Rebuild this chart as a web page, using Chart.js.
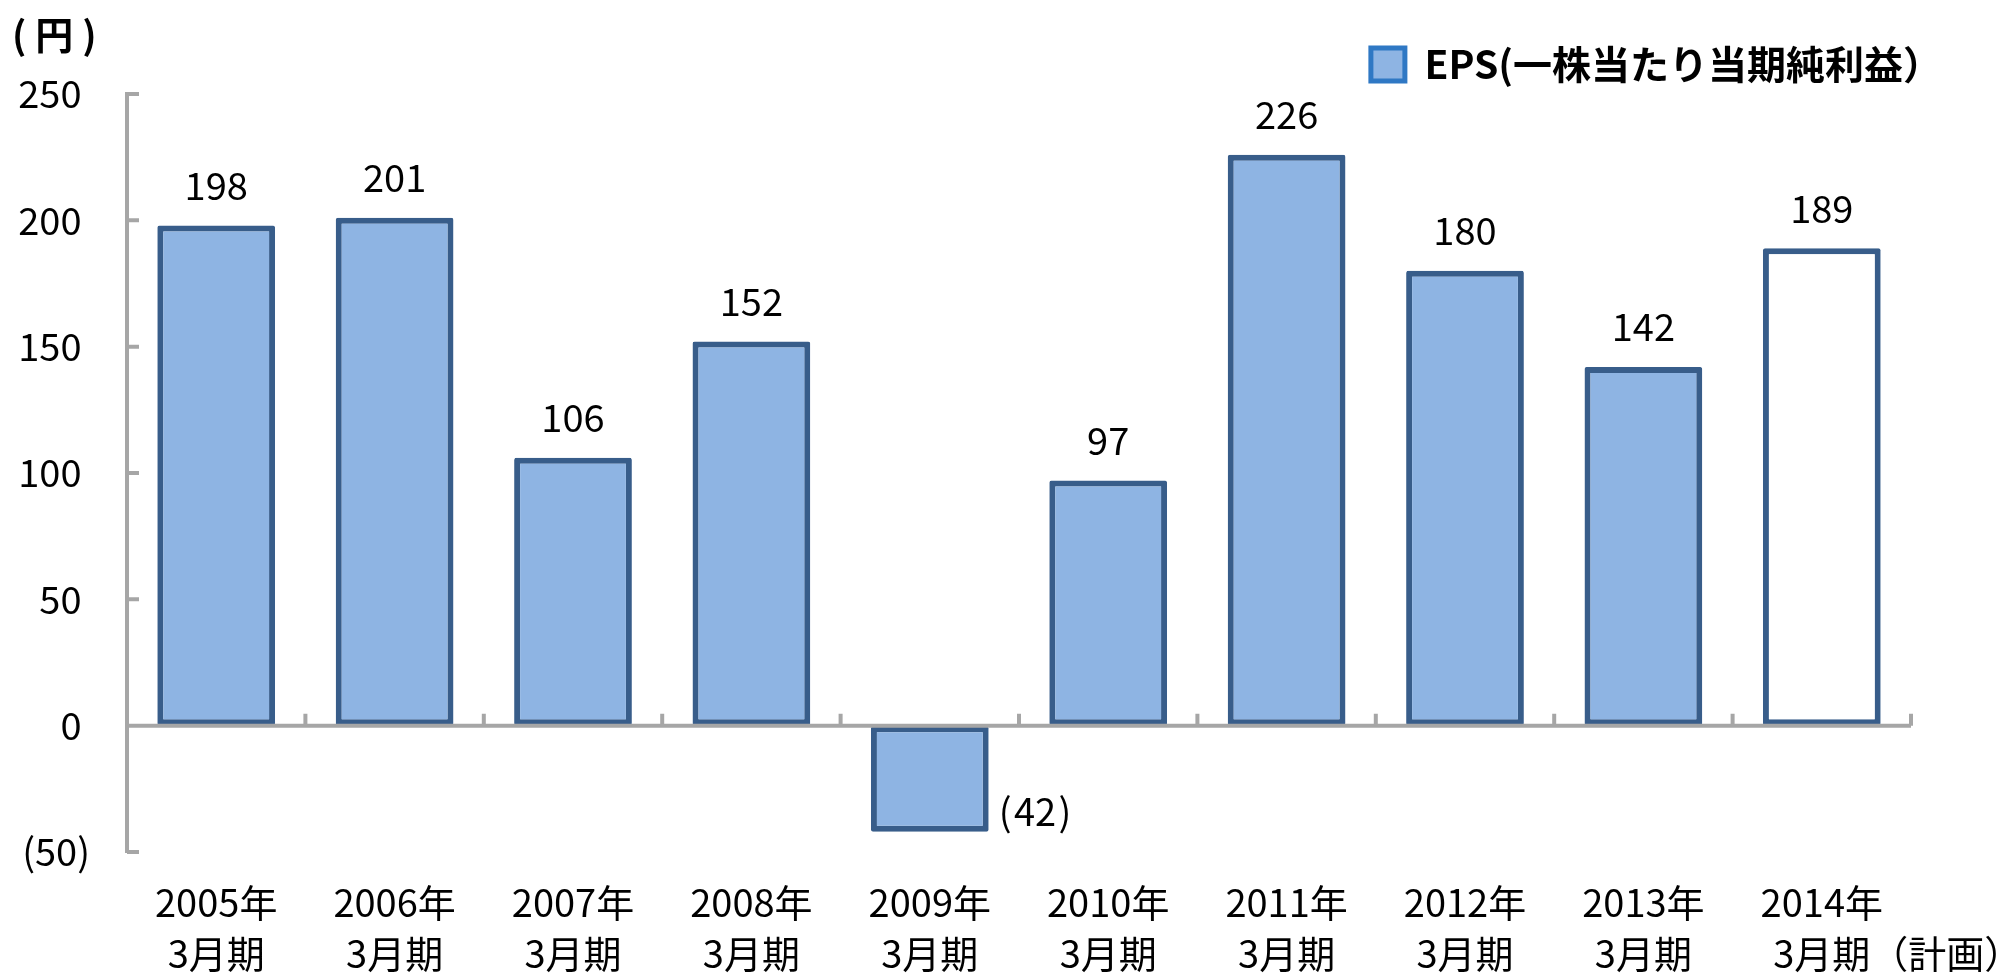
<!DOCTYPE html>
<html>
<head>
<meta charset="utf-8">
<script src="https://cdn.jsdelivr.net/npm/chart.js@4/dist/chart.umd.min.js"></script>
<style>
  body { margin: 0; background: #fff; }
  #wrap { position: relative; width: 2004px; height: 974px; overflow: hidden; }
  #unit {
    position: absolute; left: 12px; top: 14px;
    font: bold 38px 'Noto Sans CJK JP', sans-serif; line-height: 38px; color: #000;
    letter-spacing: 9px;
  }
</style>
</head>
<body>
<div id="wrap">
  <canvas id="chart" width="2004" height="974"></canvas>
  <div id="unit">(円)</div>
</div>
<script>
// ── data ─────────────────────────────────────────
const years   = ['2005年', '2006年', '2007年', '2008年', '2009年', '2010年', '2011年', '2012年', '2013年', '2014年'];
const periods = ['3月期', '3月期', '3月期', '3月期', '3月期', '3月期', '3月期', '3月期', '3月期', '　　　　3月期（計画）'];
const eps     = [198, 201, 106, 152, -42, 97, 226, 180, 142, 189];
const yTicks  = [-50, 0, 50, 100, 150, 200, 250];
const seriesName = 'EPS(一株当たり当期純利益）';

// ── styles ───────────────────────────────────────
const FONT   = "'Noto Sans CJK JP', sans-serif";
const FILL   = '#8eb4e3';
const BORDER = '#385d8a';
const AXIS   = '#a6a6a6';

Chart.defaults.font.family = FONT;
Chart.defaults.color = '#000';

const labels = years.map((y, i) => [y, periods[i]]);

// zero line, inward tick marks (drawn over the bars like the original)
const axisMarks = {
  id: 'axisMarks',
  afterDatasetsDraw(chart) {
    const { ctx, chartArea, scales: { x, y } } = chart;
    const y0 = y.getPixelForValue(0);
    const half = (x.getPixelForValue(1) - x.getPixelForValue(0)) / 2;
    ctx.save();
    ctx.strokeStyle = AXIS;
    ctx.lineWidth = 4;
    ctx.beginPath();
    ctx.moveTo(chartArea.left, y0);
    ctx.lineTo(chartArea.right, y0);
    for (let i = 0; i < labels.length; i++) {
      const px = x.getPixelForValue(i) + half;
      ctx.moveTo(px, y0);
      ctx.lineTo(px, y0 - 12);
    }
    y.ticks.forEach(t => {
      const py = y.getPixelForValue(t.value);
      ctx.moveTo(chartArea.left, py);
      ctx.lineTo(chartArea.left + 12, py);
    });
    ctx.stroke();
    ctx.restore();
  }
};

// value labels above bars, negatives in brackets to the right
const valueLabels = {
  id: 'valueLabels',
  afterDatasetsDraw(chart) {
    const ctx = chart.ctx;
    const meta = chart.getDatasetMeta(0);
    ctx.save();
    ctx.font = '38px ' + FONT;
    ctx.fillStyle = '#000';
    ctx.textBaseline = 'middle';
    meta.data.forEach((bar, i) => {
      const v = eps[i];
      if (v < 0) {
        ctx.textAlign = 'left';
        ctx.fillText('(\u200A' + (-v) + '\u200A)', bar.x + bar.width / 2 + 10, bar.y - 20);
      } else {
        ctx.textAlign = 'center';
        ctx.fillText(String(v), bar.x, bar.y - 40);
      }
    });
    ctx.restore();
  }
};

new Chart(document.getElementById('chart'), {
  type: 'bar',
  data: {
    labels: labels,
    datasets: [{
      label: seriesName,
      data: eps,
      backgroundColor: eps.map((v, i) => i === eps.length - 1 ? '#ffffff' : FILL),
      borderColor: BORDER,
      borderWidth: 6,
      borderSkipped: false,
      borderRadius: 2,
      barPercentage: 0.66,
      categoryPercentage: 1
    }]
  },
  options: {
    responsive: false,
    animation: false,
    layout: { padding: { top: 15, right: 52, left: 0, bottom: 0 } },
    plugins: {
      tooltip: { enabled: false },
      legend: {
        position: 'top',
        align: 'end',
        labels: {
          boxWidth: 34,
          boxHeight: 33,
          padding: 10,
          useBorderRadius: true,
          borderRadius: 6,
          color: '#000',
          font: { size: 39, weight: 'bold' },
          generateLabels: () => [{
            text: seriesName,
            fillStyle: FILL,
            strokeStyle: '#2f78c4',
            lineWidth: 5,
            hidden: false,
            datasetIndex: 0
          }]
        }
      }
    },
    scales: {
      x: {
        offset: true,
        grid: { display: false, drawTicks: false },
        border: { display: false },
        ticks: {
          color: '#000',
          font: { size: 38, lineHeight: 1.35 },
          padding: 25,
          maxRotation: 0,
          minRotation: 0,
          autoSkip: false
        },
        afterFit: s => { s.height = 122; s.paddingRight = 93; }
      },
      y: {
        min: -50,
        max: 250,
        afterBuildTicks: s => { s.ticks = yTicks.map(v => ({ value: v })); },
        grid: { color: 'rgba(0,0,0,0)', drawTicks: false },
        border: { display: true, color: AXIS, width: 4 },
        ticks: {
          color: '#000',
          font: { size: 38 },
          padding: 37,
          callback: v => v < 0 ? '(' + (-v) + ')' : v + ' '
        },
        afterFit: s => { s.width = 127; s.paddingTop = 94; }
      }
    }
  },
  plugins: [axisMarks, valueLabels]
});
</script>
</body>
</html>
